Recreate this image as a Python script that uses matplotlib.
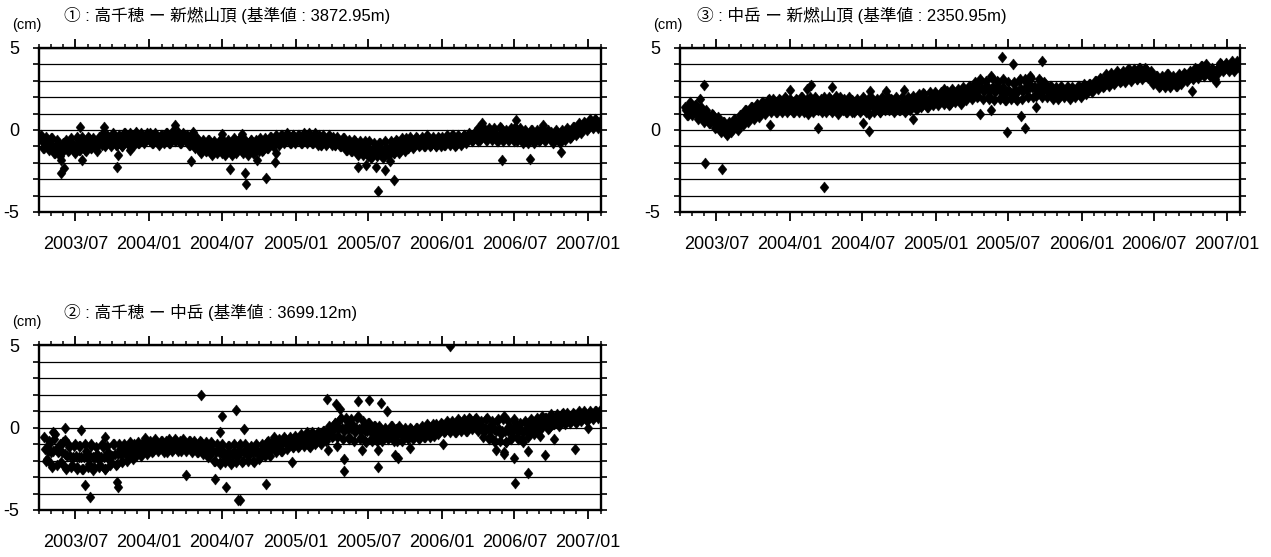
import matplotlib
matplotlib.use("Agg")
import matplotlib.pyplot as plt
import matplotlib.dates as mdates
from matplotlib.ticker import FixedLocator, MultipleLocator
import pandas as pd

plt.rcParams['font.family'] = ['Liberation Sans', 'Noto Sans CJK JP']
plt.rcParams['axes.unicode_minus'] = False

# ---------------- data (cm) ----------------
titles = ["① : 高千穂 ー 新燃山頂 (基準値 : 3872.95m)",
          "③ : 中岳 ー 新燃山頂 (基準値 : 2350.95m)",
          "② : 高千穂 ー 中岳 (基準値 : 3699.12m)"]
unit_label = "(cm)"
x_start = "2003-04-01"
x_end = "2007-02-02"
y_ticklabels = [-5, 0, 5]

# three interleaved weekly tracks through the scattered band (one row per quarter)
p1_start, p1_mid_start, p1_band2_start = "2003-04-06", "2003-04-09", "2003-04-11"
p1_band = [
    -0.3, -1.1, -0.6, -1.2, -0.5, -1.4, -0.9, -1.8, -1.3, -0.6, -1.2, -0.8, -1.4,
    -0.4, -1.2, -0.7, -1.3, -0.5, -1.1, -0.8, -1.3, -0.6, -0.2, -0.9, -0.5, -1.0,
    -0.3, -0.9, -0.5, -1.0, -0.2, -0.8, -0.4, -0.9, -0.2, -0.8, -0.3, -0.7, -0.4,
    -0.2, -0.8, -0.4, -0.9, -0.3, -0.7, -0.2, -0.8, -0.1, -0.6, -0.3, -0.8, -0.4,
    -0.3, -0.9, -0.5, -1.1, -0.6, -1.4, -0.8, -1.3, -0.6, -1.5, -0.9, -1.3, -0.7,
    -0.6, -1.4, -0.9, -1.5, -0.7, -1.3, -0.5, -1.4, -0.8, -1.3, -0.6, -1.4, -0.9,
    -0.5, -1.2, -0.8, -1.1, -0.4, -0.9, -0.6, -0.8, -0.3, -0.7, -0.5, -0.8, -0.3,
    -0.6, -0.3, -0.8, -0.4, -0.7, -0.3, -0.8, -0.5, -0.3, -0.9, -0.5, -0.8, -0.4,
    -0.4, -0.9, -0.6, -1.0, -0.5, -1.2, -0.8, -1.3, -0.7, -1.5, -0.9, -1.4, -1.0,
    -0.7, -1.6, -1.0, -1.4, -0.8, -1.7, -1.1, -1.5, -0.8, -1.4, -0.7, -1.3, -0.9,
    -0.5, -1.1, -0.7, -1.0, -0.5, -0.9, -0.6, -1.0, -0.5, -0.9, -0.6, -1.0, -0.5,
    -0.4, -0.9, -0.6, -0.8, -0.3, -0.9, -0.5, -0.8, -0.3, -0.7, -0.4, -0.6, -0.2,
    0.1, -0.5, -0.1, -0.6, 0.0, -0.4, -0.2, -0.7, 0.1, -0.5, -0.1, -0.6, -0.2,
    0.2, -0.5, -0.1, -0.8, -0.2, -0.6, 0.0, -0.7, -0.3, -0.6, 0.0, -0.5, -0.2,
    -0.1, -0.7, -0.3, -0.8, -0.2, -0.5, 0.0, -0.4, 0.2, -0.2, 0.3, 0.0, 0.4,
    0.1, 0.5, 0.2, 0.6, 0.3,
]
p1_mid = [
    -0.7, -0.8, -0.8, -0.9, -1.0, -1.0, -1.2, -1.3, -1.1, -0.9, -0.9, -1.0, -0.9,
    -0.8, -0.8, -0.9, -0.8, -0.8, -0.8, -0.9, -0.8, -0.7, -0.6, -0.6, -0.6, -0.6,
    -0.6, -0.6, -0.7, -0.6, -0.5, -0.5, -0.6, -0.5, -0.5, -0.5, -0.5, -0.5, -0.5,
    -0.5, -0.5, -0.5, -0.6, -0.5, -0.5, -0.5, -0.4, -0.4, -0.4, -0.5, -0.5, -0.5,
    -0.6, -0.6, -0.7, -0.8, -0.9, -1.0, -1.0, -1.0, -1.0, -1.1, -1.1, -1.0, -1.0,
    -1.0, -1.0, -1.1, -1.0, -1.0, -1.0, -0.9, -1.0, -1.1, -1.0, -1.0, -1.0, -1.0,
    -0.9, -0.9, -0.8, -0.8, -0.7, -0.6, -0.6, -0.6, -0.5, -0.5, -0.5, -0.6, -0.5,
    -0.5, -0.5, -0.5, -0.6, -0.5, -0.5, -0.5, -0.6, -0.6, -0.6, -0.6, -0.6, -0.6,
    -0.6, -0.7, -0.7, -0.8, -0.8, -0.9, -0.9, -1.0, -1.0, -1.1, -1.1, -1.1, -1.2,
    -1.2, -1.2, -1.2, -1.2, -1.1, -1.2, -1.1, -1.1, -1.0, -1.0, -1.0, -0.9, -0.9,
    -0.8, -0.8, -0.8, -0.7, -0.7, -0.7, -0.7, -0.7, -0.7, -0.7, -0.7, -0.7, -0.7,
    -0.6, -0.6, -0.6, -0.6, -0.6, -0.6, -0.6, -0.6, -0.5, -0.5, -0.4, -0.4, -0.4,
    -0.2, -0.2, -0.3, -0.2, -0.2, -0.3, -0.3, -0.3, -0.3, -0.3, -0.3, -0.3, -0.3,
    -0.2, -0.3, -0.3, -0.4, -0.4, -0.4, -0.4, -0.4, -0.3, -0.3, -0.3, -0.3, -0.3,
    -0.4, -0.4, -0.4, -0.4, -0.3, -0.2, -0.2, -0.1, 0.0, 0.1, 0.1, 0.2, 0.2,
    0.3, 0.3, 0.4, 0.4, 0.4,
]
p1_band2 = [
    -1.1, -0.4, -1.1, -0.5, -1.4, -0.6, -1.6, -0.8, -0.8, -1.3, -0.5, -1.3, -0.5,
    -1.2, -0.4, -1.2, -0.4, -1.1, -0.5, -1.1, -0.4, -0.9, -1.0, -0.3, -0.8, -0.2,
    -0.9, -0.3, -1.0, -0.2, -0.8, -0.2, -0.9, -0.1, -0.8, -0.2, -0.8, -0.2, -0.7,
    -0.8, -0.2, -0.7, -0.3, -0.8, -0.2, -0.8, -0.1, -0.7, -0.1, -0.8, -0.2, -0.7,
    -0.9, -0.3, -1.0, -0.5, -1.3, -0.6, -1.3, -0.6, -1.4, -0.7, -1.4, -0.6, -1.4,
    -1.5, -0.6, -1.4, -0.5, -1.4, -0.6, -1.3, -0.6, -1.5, -0.6, -1.4, -0.6, -1.3,
    -1.3, -0.5, -1.1, -0.4, -1.0, -0.3, -0.9, -0.3, -0.8, -0.2, -0.8, -0.3, -0.8,
    -0.3, -0.8, -0.2, -0.8, -0.2, -0.8, -0.2, -0.9, -0.9, -0.3, -0.9, -0.3, -0.9,
    -0.9, -0.4, -1.0, -0.5, -1.2, -0.6, -1.3, -0.6, -1.4, -0.7, -1.5, -0.7, -1.6,
    -1.7, -0.8, -1.6, -0.8, -1.5, -0.7, -1.5, -0.7, -1.4, -0.6, -1.4, -0.5, -1.3,
    -1.1, -0.4, -1.1, -0.4, -1.0, -0.4, -1.0, -0.3, -1.0, -0.4, -1.0, -0.4, -1.0,
    -0.9, -0.3, -0.9, -0.3, -1.0, -0.3, -0.9, -0.3, -0.8, -0.2, -0.7, -0.1, -0.7,
    -0.6, 0.2, -0.6, 0.1, -0.6, 0.1, -0.7, 0.2, -0.7, 0.0, -0.6, 0.1, -0.7,
    -0.7, 0.1, -0.7, 0.0, -0.8, 0.0, -0.8, 0.0, -0.7, 0.1, -0.7, 0.0, -0.6,
    -0.8, 0.0, -0.7, 0.0, -0.6, 0.1, -0.5, 0.2, -0.3, 0.4, -0.2, 0.5, 0.0,
    0.7, 0.1, 0.7, 0.1, 0.6,
]
p1_out_dates = ["2003-05-25", "2003-06-02", "2003-07-12", "2003-07-18", "2003-09-10",
                "2003-10-12", "2003-10-15", "2003-11-15", "2004-03-05", "2004-04-15",
                "2004-04-20", "2004-07-02", "2004-07-22", "2004-08-20", "2004-08-28",
                "2004-08-30", "2004-09-25", "2004-10-19", "2004-11-10", "2004-11-12",
                "2005-06-05", "2005-06-25", "2005-07-20", "2005-07-25", "2005-08-12",
                "2005-08-25", "2005-09-04", "2006-04-10", "2006-06-01", "2006-07-05",
                "2006-08-10", "2006-09-10", "2006-10-25"]
p1_out_vals = [-2.65, -2.3, 0.2, -1.8, 0.2,
               -2.25, -1.5, -1.2, 0.3, -1.9,
               -0.1, -0.25, -2.4, -0.25, -2.65,
               -3.3, -1.8, -2.9, -1.95, -1.4,
               -2.25, -2.15, -2.25, -3.7, -2.45,
               -1.9, -3.05, 0.4, -1.85, 0.6,
               -1.75, 0.3, -1.35]

p3_start, p3_mid_start, p3_band2_start = "2003-04-13", "2003-04-16", "2003-04-18"
p3_band = [
    1.4, 0.9, 1.7, 1.1, 1.5, 0.8, 1.2, 0.6, 1.0, 0.4, 0.9, 0.2, 0.7,
    -0.1, 0.5, -0.3, 0.3, 0.0, 0.6, 0.2, 0.9, 0.5, 1.2, 0.8, 1.4, 0.9,
    1.5, 1.0, 1.7, 1.2, 1.9, 1.3, 1.6, 1.1, 1.8, 1.4, 1.9, 1.2, 1.6,
    1.1, 1.8, 1.3, 2.0, 1.4, 1.0, 1.7, 1.2, 1.9, 1.5, 1.1, 1.8, 1.3,
    1.9, 1.4, 2.1, 1.2, 1.6, 1.9, 1.1, 1.5, 1.8, 1.2, 1.7, 1.3, 1.9,
    1.4, 1.0, 1.8, 1.3, 1.6, 1.1, 1.9, 1.4, 1.2, 1.8, 1.3, 1.7, 1.2,
    1.6, 1.2, 1.9, 1.4, 1.7, 1.3, 2.0, 1.5, 1.8, 1.4, 2.0, 1.6, 2.1,
    1.7, 2.2, 1.8, 2.0, 1.6, 2.3, 1.9, 2.1, 1.7, 2.4, 2.0, 2.6, 2.2,
    2.8, 2.1, 3.0, 2.4, 2.7, 1.9, 3.2, 2.3, 2.9, 2.0, 2.6, 1.8, 2.4,
    2.0, 2.8, 1.8, 3.1, 2.4, 2.9, 2.1, 3.2, 2.6, 2.2, 3.0, 2.4, 2.8,
    2.3, 2.7, 2.1, 2.5, 2.0, 2.4, 2.2, 2.6, 2.1, 2.5, 2.3, 2.7, 2.4,
    2.6, 2.3, 2.8, 2.5, 3.0, 2.6, 3.1, 2.7, 3.2, 2.8, 3.3, 2.9, 3.4,
    3.0, 3.5, 3.2, 3.7, 3.3, 3.6, 3.1, 3.8, 3.4, 3.7, 3.2, 3.5, 2.9,
    3.3, 2.7, 3.2, 2.8, 3.4, 2.9, 3.1, 2.7, 3.3, 3.0, 3.4, 3.1, 3.5,
    3.2, 3.7, 3.4, 3.9, 3.5, 3.8, 3.3, 3.6, 2.9, 3.8, 4.0, 3.7, 3.9,
    3.7, 4.1, 3.8, 4.0,
]
p3_mid = [
    1.2, 1.2, 1.3, 1.2, 1.1, 1.0, 0.9, 0.8, 0.7, 0.6, 0.5, 0.4, 0.4,
    0.2, 0.2, 0.1, 0.2, 0.3, 0.4, 0.5, 0.7, 0.8, 0.9, 1.0, 1.1, 1.2,
    1.2, 1.3, 1.4, 1.4, 1.5, 1.5, 1.5, 1.4, 1.5, 1.6, 1.5, 1.5, 1.5,
    1.5, 1.5, 1.6, 1.6, 1.5, 1.5, 1.5, 1.5, 1.6, 1.6, 1.5, 1.5, 1.6,
    1.6, 1.6, 1.6, 1.5, 1.5, 1.6, 1.5, 1.5, 1.5, 1.5, 1.5, 1.6, 1.6,
    1.5, 1.5, 1.5, 1.5, 1.5, 1.5, 1.6, 1.6, 1.5, 1.5, 1.5, 1.6, 1.6,
    1.6, 1.6, 1.6, 1.7, 1.7, 1.7, 1.8, 1.8, 1.8, 1.8, 1.9, 1.9, 1.9,
    1.9, 2.0, 2.0, 2.0, 2.0, 2.1, 2.1, 2.1, 2.2, 2.2, 2.3, 2.4, 2.4,
    2.5, 2.5, 2.5, 2.6, 2.5, 2.5, 2.6, 2.5, 2.5, 2.4, 2.3, 2.3, 2.3,
    2.3, 2.4, 2.4, 2.5, 2.5, 2.5, 2.6, 2.6, 2.6, 2.6, 2.5, 2.5, 2.5,
    2.4, 2.4, 2.3, 2.3, 2.3, 2.3, 2.3, 2.3, 2.3, 2.3, 2.4, 2.4, 2.5,
    2.5, 2.5, 2.6, 2.7, 2.8, 2.8, 2.9, 3.0, 3.0, 3.1, 3.1, 3.2, 3.2,
    3.2, 3.3, 3.3, 3.4, 3.4, 3.4, 3.4, 3.5, 3.5, 3.5, 3.3, 3.1, 3.0,
    3.0, 3.0, 3.0, 3.0, 3.0, 3.0, 3.0, 3.1, 3.1, 3.2, 3.3, 3.3, 3.4,
    3.4, 3.5, 3.5, 3.6, 3.6, 3.6, 3.4, 3.2, 3.7, 3.8, 3.8, 3.8, 3.8,
    3.9, 3.9, 4.0, 4.0,
]
p3_band2 = [
    0.9, 1.6, 0.9, 1.5, 0.7, 1.4, 0.5, 1.2, 0.4, 1.0, 0.1, 0.8, 0.0,
    0.5, -0.2, 0.5, -0.1, 0.7, 0.1, 0.9, 0.3, 1.2, 0.5, 1.4, 0.7, 1.6,
    0.8, 1.7, 1.0, 1.8, 1.1, 1.9, 1.1, 1.9, 1.1, 2.0, 1.1, 1.9, 1.1,
    1.9, 1.1, 2.0, 1.1, 1.9, 2.0, 1.1, 2.0, 1.2, 1.9, 2.0, 1.1, 2.0,
    1.1, 1.9, 1.0, 2.0, 1.2, 1.1, 2.0, 1.1, 1.1, 1.9, 1.1, 2.0, 1.1,
    1.9, 2.0, 1.1, 1.9, 1.1, 2.0, 1.2, 2.0, 1.9, 1.1, 2.0, 1.2, 2.0,
    1.1, 2.0, 1.2, 2.1, 1.3, 2.2, 1.4, 2.2, 1.4, 2.3, 1.5, 2.3, 1.5,
    2.3, 1.6, 2.4, 1.5, 2.5, 1.7, 2.5, 1.6, 2.6, 1.8, 2.7, 1.9, 2.9,
    2.0, 3.1, 1.9, 3.0, 2.1, 3.3, 1.8, 3.0, 1.9, 3.1, 1.8, 2.9, 1.9,
    2.9, 1.9, 3.0, 1.9, 3.1, 2.0, 3.3, 2.0, 2.1, 3.1, 2.0, 2.9, 2.0,
    2.7, 1.9, 2.6, 1.9, 2.7, 2.0, 2.6, 1.9, 2.6, 2.0, 2.7, 2.0, 2.8,
    2.2, 2.8, 2.3, 3.0, 2.5, 3.2, 2.6, 3.4, 2.7, 3.5, 2.8, 3.6, 2.9,
    3.6, 2.9, 3.7, 3.0, 3.7, 3.1, 3.8, 3.1, 3.8, 3.2, 3.6, 2.8, 3.3,
    2.6, 3.3, 2.6, 3.4, 2.6, 3.3, 2.7, 3.4, 2.8, 3.5, 3.0, 3.6, 3.1,
    3.8, 3.2, 3.9, 3.3, 4.0, 3.4, 3.8, 3.1, 3.5, 4.1, 3.6, 4.1, 3.6,
    4.2, 3.6, 4.2, 3.7,
]
p3_out_dates = ["2003-05-20", "2003-06-01", "2003-06-02", "2003-07-16", "2003-08-25",
                "2003-11-12", "2004-01-01", "2004-02-12", "2004-02-24", "2004-03-12",
                "2004-03-28", "2004-04-15", "2004-07-03", "2004-07-18", "2004-07-20",
                "2004-08-28", "2004-10-13", "2004-11-06", "2004-12-01", "2005-01-21",
                "2005-04-22", "2005-05-19", "2005-06-15", "2005-06-28", "2005-07-13",
                "2005-08-03", "2005-08-13", "2005-09-09", "2005-09-25", "2006-10-04"]
p3_out_vals = [1.9, 2.75, -2.0, -2.4, 0.0,
               0.3, 2.45, 2.5, 2.75, 0.15,
               -3.5, 2.65, 0.45, -0.05, 2.35,
               2.35, 2.45, 0.65, 2.25, 2.5,
               1.0, 1.25, 4.45, -0.1, 4.0,
               0.85, 0.1, 1.4, 4.2, 2.4]

p2_start, p2_mid_start, p2_band2_start = "2003-04-13", "2003-04-16", "2003-04-18"
p2_band = [
    -0.6, -1.9, -1.0, -2.4, -0.4, -1.5, -2.1, -0.9, -2.5, -1.2, -2.3, -1.0, -2.4,
    -1.1, -2.5, -1.4, -2.2, -1.0, -2.4, -1.6, -2.3, -1.2, -2.5, -1.5, -2.1, -1.0,
    -2.2, -1.3, -2.0, -1.1, -1.8, -1.4, -1.0, -1.6, -1.2, -1.5, -0.9, -1.4, -1.1,
    -1.4, -0.9, -1.3, -0.8, -1.2, -1.5, -0.9, -1.3, -0.8, -1.2, -1.4, -0.9, -1.2,
    -0.8, -1.3, -1.0, -1.5, -0.9, -1.4, -1.1, -1.7, -1.0, -2.0, -1.3, -2.2, -1.4,
    -1.9, -1.1, -2.1, -1.4, -1.8, -1.0, -2.0, -1.3, -1.7, -1.2, -2.1, -1.5, -1.8,
    -1.1, -1.6, -0.8, -1.3, -0.6, -1.2, -0.9, -1.4, -0.7, -1.1, -0.8, -1.2, -0.7,
    -1.1, -0.6, -1.0, -0.5, -1.2, -0.7, -0.9, -0.4, -0.8, -0.2, -0.6, -0.1, -0.5,
    0.3, -0.5, 0.6, -0.2, 0.4, -0.7, 0.2, -0.3, 0.7, -0.6, 0.1, -0.9, 0.3,
    -0.8, 0.1, -0.5, 0.0, -0.7, -0.2, -0.6, 0.1, -0.4, -0.8, -0.1, -0.5, -0.2,
    -0.6, -0.1, -0.5, 0.0, -0.4, -0.2, -0.6, 0.1, -0.3, -0.5, 0.0, -0.3, 0.2,
    -0.2, 0.3, -0.1, 0.2, -0.3, 0.4, 0.0, 0.3, -0.2, 0.5, 0.1, 0.6, 0.2,
    0.4, -0.3, 0.6, -0.5, 0.2, -0.8, 0.5, -0.4, 0.7, -0.9, 0.1, -0.6, 0.3,
    -0.7, 0.2, -0.9, 0.3, -0.4, 0.4, -0.2, 0.5, -0.5, 0.1, 0.6, 0.0, 0.5,
    0.2, 0.8, 0.3, 0.9, 0.4, 0.7, 0.5, 0.8, 0.4, 0.9, 0.6, 0.8, 0.5,
    0.9, 0.6, 1.0, 0.8,
]
p2_mid = [
    -1.3, -1.4, -1.5, -1.4, -1.3, -1.4, -1.5, -1.6, -1.7, -1.7, -1.8, -1.7, -1.8,
    -1.8, -1.8, -1.8, -1.7, -1.8, -1.8, -1.9, -1.8, -1.8, -1.8, -1.7, -1.7, -1.6,
    -1.6, -1.6, -1.5, -1.5, -1.4, -1.4, -1.3, -1.3, -1.3, -1.2, -1.2, -1.2, -1.2,
    -1.1, -1.1, -1.1, -1.1, -1.1, -1.1, -1.1, -1.1, -1.0, -1.0, -1.1, -1.1, -1.1,
    -1.1, -1.1, -1.2, -1.2, -1.2, -1.3, -1.3, -1.4, -1.4, -1.5, -1.5, -1.6, -1.6,
    -1.6, -1.6, -1.6, -1.6, -1.5, -1.5, -1.5, -1.5, -1.5, -1.5, -1.5, -1.4, -1.4,
    -1.3, -1.3, -1.2, -1.1, -1.0, -1.0, -1.0, -0.9, -0.9, -0.9, -0.9, -0.8, -0.8,
    -0.8, -0.8, -0.7, -0.7, -0.7, -0.6, -0.6, -0.6, -0.5, -0.4, -0.3, -0.2, -0.1,
    0.0, 0.0, 0.0, 0.0, -0.1, 0.0, -0.1, 0.0, -0.1, -0.1, -0.2, -0.2, -0.2,
    -0.3, -0.3, -0.3, -0.4, -0.4, -0.4, -0.4, -0.3, -0.4, -0.4, -0.4, -0.3, -0.3,
    -0.3, -0.3, -0.3, -0.3, -0.2, -0.2, -0.2, -0.2, -0.1, -0.1, -0.1, 0.0, 0.0,
    0.0, 0.0, 0.1, 0.1, 0.1, 0.1, 0.1, 0.1, 0.2, 0.2, 0.2, 0.2, 0.1,
    0.1, 0.0, 0.0, -0.1, -0.1, -0.2, -0.1, -0.2, -0.2, -0.2, -0.1, -0.2, -0.1,
    -0.2, -0.2, -0.2, -0.1, 0.0, 0.0, 0.1, 0.2, 0.2, 0.3, 0.3, 0.3, 0.4,
    0.4, 0.5, 0.5, 0.5, 0.6, 0.6, 0.6, 0.6, 0.6, 0.7, 0.7, 0.7, 0.7,
    0.8, 0.8, 0.8, 0.8,
]
p2_band2 = [
    -2.0, -0.8, -2.2, -0.7, -2.3, -1.0, -0.9, -2.4, -1.0, -2.4, -1.1, -2.5, -1.1,
    -2.5, -1.0, -2.4, -1.1, -2.6, -1.2, -2.4, -1.0, -2.5, -1.1, -2.3, -1.0, -2.3,
    -1.0, -2.1, -1.0, -2.0, -0.9, -1.9, -1.7, -0.9, -1.7, -0.8, -1.6, -0.8, -1.5,
    -0.7, -1.4, -0.8, -1.5, -0.8, -0.7, -1.4, -0.7, -1.4, -0.8, -0.7, -1.4, -0.8,
    -1.5, -0.8, -1.5, -0.8, -1.6, -0.9, -1.8, -0.9, -2.0, -1.0, -2.1, -1.0, -2.1,
    -1.1, -2.2, -1.0, -2.1, -1.1, -2.1, -1.0, -2.0, -1.1, -2.0, -1.0, -1.9, -1.0,
    -1.7, -0.9, -1.7, -0.8, -1.5, -0.7, -1.4, -0.6, -1.3, -0.6, -1.2, -0.5, -1.2,
    -0.4, -1.1, -0.3, -1.1, -0.3, -1.0, -0.3, -1.0, -0.2, -0.8, 0.1, -0.6, 0.3,
    -0.6, 0.5, -0.7, 0.6, -0.6, 0.5, -0.8, 0.6, -0.7, 0.4, -0.8, 0.3, -0.7,
    0.1, -0.8, 0.1, -0.8, 0.0, -0.7, 0.1, -0.8, -0.1, 0.1, -0.8, 0.0, -0.7,
    0.0, -0.7, 0.0, -0.7, 0.1, -0.6, 0.2, -0.6, 0.2, 0.2, -0.4, 0.3, -0.3,
    0.4, -0.3, 0.4, -0.3, 0.5, -0.2, 0.5, -0.2, 0.6, -0.1, 0.5, -0.2, 0.0,
    -0.6, 0.5, -0.7, 0.4, -0.8, 0.4, -0.8, 0.5, -0.9, 0.4, -0.7, 0.5, -0.6,
    0.3, -0.7, 0.4, -0.6, 0.5, -0.4, 0.6, -0.2, 0.7, 0.6, -0.1, 0.8, 0.2,
    0.7, 0.1, 0.8, 0.2, 0.9, 0.3, 0.9, 0.3, 1.0, 0.4, 1.0, 0.4, 1.0,
    0.5, 1.0, 0.6, 1.1,
]
p2_out_dates = ["2003-05-05", "2003-06-04", "2003-06-06", "2003-07-16", "2003-07-25",
                "2003-08-06", "2003-09-13", "2003-10-12", "2003-10-14", "2003-12-22",
                "2004-04-01", "2004-05-10", "2004-06-13", "2004-06-25", "2004-07-01",
                "2004-07-10", "2004-08-04", "2004-08-10", "2004-08-16", "2004-08-25",
                "2004-10-19", "2004-12-22", "2005-03-21", "2005-03-22", "2005-04-12",
                "2005-04-13", "2005-04-21", "2005-05-01", "2005-05-02", "2005-06-06",
                "2005-06-15", "2005-07-03", "2005-07-25", "2005-07-26", "2005-08-03",
                "2005-08-16", "2005-09-06", "2005-09-13", "2005-10-13", "2006-01-04",
                "2006-01-22", "2006-05-16", "2006-06-04", "2006-06-05", "2006-07-01",
                "2006-07-02", "2006-08-04", "2006-08-05", "2006-09-16", "2006-10-07",
                "2006-11-28", "2007-01-01"]
p2_out_vals = [-0.25, 0.0, -0.75, -0.15, -3.5,
               -4.2, -0.55, -3.3, -3.6, -0.65,
               -2.85, 2.0, -3.1, -0.25, 0.7,
               -3.6, 1.05, -4.4, -4.4, -0.1,
               -3.4, -2.1, 1.7, -1.35, 1.4,
               -1.1, 1.1, -1.9, -2.65, 1.6,
               -1.35, 1.65, -1.35, -2.4, 1.5,
               1.0, -1.65, -1.85, -1.25, -1.0,
               4.95, -1.35, -1.5, -1.6, -1.85,
               -3.35, -1.45, -2.75, -1.65, -0.7,
               -1.3, 0.0]

panels = [
    (titles[0], [(p1_start, p1_band), (p1_mid_start, p1_mid), (p1_band2_start, p1_band2)],
     p1_out_dates, p1_out_vals),
    (titles[1], [(p3_start, p3_band), (p3_mid_start, p3_mid), (p3_band2_start, p3_band2)],
     p3_out_dates, p3_out_vals),
    (titles[2], [(p2_start, p2_band), (p2_mid_start, p2_mid), (p2_band2_start, p2_band2)],
     p2_out_dates, p2_out_vals),
]

# ---------------- layout (pixels) ----------------
W, H = 1271, 557
boxes = [(39, 48, 601, 212), (680, 48, 1240, 212), (39, 345, 601, 510)]
title_dx = [25, 17, 25]

fig = plt.figure(figsize=(W / 100, H / 100), dpi=100)

diamond = [(0, 1), (0.8, 0), (0, -1), (-0.8, 0), (0, 1)]
mstyle = dict(ls="none", marker=diamond, ms=8, mec="black", mew=0.3,
              color="black", zorder=3)

for (title, tracks, odates, ovals), (l, t, r, b), tdx in zip(panels, boxes, title_dx):
    ax = fig.add_axes([l / W, 1 - b / H, (r - l) / W, (b - t) / H])
    for start, vals in tracks:
        ax.plot(pd.date_range(start, periods=len(vals), freq="7D"), vals, **mstyle)
    ax.plot(pd.to_datetime(odates), ovals, **mstyle)

    ax.set_xlim(pd.Timestamp(x_start), pd.Timestamp(x_end))
    ax.set_ylim(-5, 5)

    ax.xaxis.set_major_locator(mdates.MonthLocator(bymonth=[1, 7]))
    ax.xaxis.set_minor_locator(mdates.MonthLocator())
    ax.xaxis.set_major_formatter(mdates.DateFormatter("%Y/%m"))
    ax.yaxis.set_major_locator(FixedLocator(y_ticklabels))
    ax.yaxis.set_minor_locator(MultipleLocator(1))

    ax.grid(axis="y", which="both", color="black", lw=0.9, zorder=1)
    ax.set_axisbelow(True)

    ax.tick_params(axis="x", which="major", direction="out", length=6.5, width=1.3,
                   top=True, bottom=True, labelsize=13, pad=10.5)
    ax.tick_params(axis="x", which="minor", direction="out", length=3.2, width=1.1,
                   top=True, bottom=True)
    ax.tick_params(axis="y", which="both", direction="out", length=4, width=1.2,
                   left=True, right=True, labelsize=13, pad=10)
    for s in ax.spines.values():
        s.set_linewidth(1.7)

    fig.text((l + tdx) / W, 1 - (t - 33) / H, title, fontsize=12,
             ha="left", va="center")
    fig.text((l - 27) / W, 1 - (t - 23) / H, unit_label, fontsize=10.5,
             ha="left", va="center")

fig.savefig("out.png", dpi=100)
